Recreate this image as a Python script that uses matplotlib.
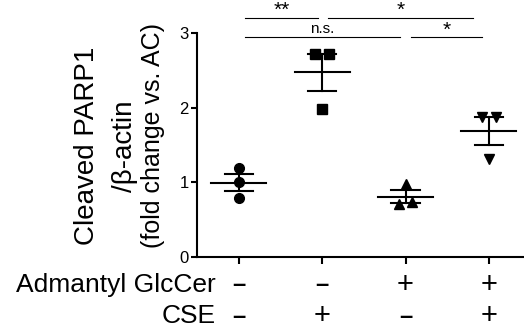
import matplotlib
matplotlib.use("Agg")
import matplotlib.pyplot as plt
import numpy as np

plt.rcParams['font.family'] = ['Liberation Sans', 'DejaVu Sans']

# data
groups = [1, 2, 3, 4]
values = [
    [1.19, 1.00, 0.79],
    [2.72, 2.72, 1.98],
    [0.98, 0.71, 0.74],
    [1.87, 1.87, 1.31],
]
jitter = [
    [0.0, 0.0, 0.0],
    [-0.08, 0.08, 0.0],
    [0.0, -0.08, 0.08],
    [-0.08, 0.08, 0.0],
]
markers = ['o', 's', '^', 'v']
glccer = ['–', '–', '+', '+']
cse = ['–', '+', '–', '+']

# significance brackets: (x start, x end, y, label)
sig = [
    (1.08, 1.95, 3.20, '**'),
    (2.07, 3.81, 3.20, '*'),
    (1.08, 2.93, 2.94, 'n.s.'),
    (3.06, 3.92, 2.94, '*'),
]

fig = plt.figure(figsize=(5.24, 3.31), dpi=100)
ax = fig.add_axes([0.376, 0.2236, 0.624, 0.6767])

for g, v, j, m in zip(groups, values, jitter, markers):
    v = np.array(v)
    ax.plot(g + np.array(j), v, linestyle='none', marker=m, color='black',
            markersize=7, clip_on=False, zorder=3)
    mean = v.mean()
    sem = v.std(ddof=1) / np.sqrt(len(v))
    ax.plot([g - 0.33, g + 0.33], [mean, mean], color='black', lw=1.5)
    ax.plot([g, g], [mean - sem, mean + sem], color='black', lw=1.5)
    for yy in (mean - sem, mean + sem):
        ax.plot([g - 0.17, g + 0.17], [yy, yy], color='black', lw=1.5)

for x0, x1, y, lab in sig:
    ax.plot([x0, x1], [y, y], color='black', lw=0.8, clip_on=False)
    if lab == 'n.s.':
        ax.text((x0 + x1) / 2, y + 0.02, lab, ha='center', va='bottom',
                fontsize=11, clip_on=False)
    else:
        ax.text((x0 + x1) / 2, y - 0.03, lab, ha='center', va='bottom',
                fontsize=15, clip_on=False)

ax.set_xlim(0.5, 4.42)
ax.set_ylim(0, 3)
ax.set_yticks([0, 1, 2, 3])
ax.set_xticks(groups)
ax.set_xticklabels([])
ax.tick_params(axis='y', labelsize=12, width=1.5, length=4, pad=2)
ax.tick_params(axis='x', width=1.5, length=5)
for s in ['top', 'right']:
    ax.spines[s].set_visible(False)
for s in ['left', 'bottom']:
    ax.spines[s].set_linewidth(1.5)

# y label lines
fig.text(87 / 524, 1 - 146 / 331, 'Cleaved PARP1', rotation=90, ha='center',
         va='center', fontsize=20)
fig.text(125 / 524, 1 - 146 / 331, '/β-actin', rotation=90, ha='center',
         va='center', fontsize=20)
fig.text(153 / 524, 1 - 136 / 331, '(fold change vs. AC)', rotation=90,
         ha='center', va='center', fontsize=18)

# condition rows below the axis
for row_y, name, signs in [(285, 'Admantyl GlcCer', glccer), (316, 'CSE', cse)]:
    fig.text(216 / 524, 1 - row_y / 331, name, ha='right', va='center', fontsize=19)
    for g, sgn in zip(groups, signs):
        xd = ax.transData.transform((g, 0))[0] / fig.bbox.width
        if sgn == '+':
            fig.text(xd, 1 - row_y / 331, sgn, ha='center', va='center',
                     fontsize=21)
        else:
            fig.text(xd, 1 - row_y / 331, sgn, ha='center', va='center',
                     fontsize=17, fontweight='bold')

fig.savefig('out.png', dpi=100)
